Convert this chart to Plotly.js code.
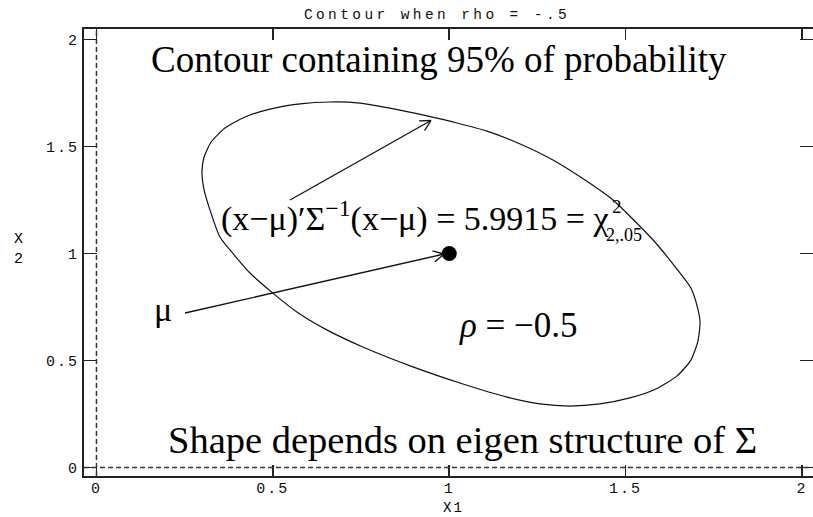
<!DOCTYPE html>
<html>
<head>
<meta charset="utf-8">
<script src="https://cdn.plot.ly/plotly-3.0.1.min.js"></script>
<style>
  html, body { margin: 0; padding: 0; background: #fff; }
  #chart { width: 813px; height: 517px; }
  .xtick text, .ytick text { letter-spacing: 2px; }
  .gtitle { letter-spacing: 3.4px; }
  .annotation[data-index="0"] text, .annotation[data-index="1"] text { letter-spacing: 2px; }
</style>
</head>
<body>
<div id="chart"></div>
<script>
// Axis ticks
const xTickVals = [0, 0.5, 1, 1.5, 2];
const xTickText = ['0', '0.5', '1', '1.5', '2'];
const yTickVals = [0, 0.5, 1, 1.5, 2];
const yTickText = ['0', '0.5', '1', '1.5', '2'];

// 95% probability contour, traced around the ellipse
const contourX = [0.747, 0.662, 0.577, 0.492, 0.421, 0.364, 0.325, 0.305, 0.299, 0.305,
                  0.319, 0.350, 0.393, 0.435, 0.500, 0.568, 0.653, 0.755, 0.897, 1.039,
                  1.164, 1.257, 1.342, 1.427, 1.512, 1.586, 1.646, 1.685, 1.705, 1.711,
                  1.702, 1.685, 1.654, 1.578, 1.464, 1.385, 1.294, 1.201, 1.107, 1.022,
                  0.937, 0.846, 0.747];
const contourY = [1.703, 1.708, 1.699, 1.675, 1.638, 1.586, 1.521, 1.451, 1.381, 1.297,
                  1.217, 1.077, 0.988, 0.909, 0.815, 0.727, 0.643, 0.563, 0.470, 0.390,
                  0.329, 0.297, 0.287, 0.297, 0.325, 0.367, 0.428, 0.502, 0.591, 0.680,
                  0.759, 0.839, 0.909, 1.063, 1.250, 1.343, 1.437, 1.512, 1.572, 1.610,
                  1.643, 1.675, 1.703];

// Mean vector mu
const meanX = [1];
const meanY = [1];

// Layout geometry
const W = 813, H = 517;
const M = { l: 84, r: 0, t: 29, b: 41 };
const XR = [-0.0354, 2.0312];
const YR = [-0.0397, 2.0491];
const plotW = W - M.l - M.r, plotH = H - M.t - M.b;
const pxX = plotW / (XR[1] - XR[0]);
const pxY = plotH / (YR[1] - YR[0]);
const px2x = p => XR[0] + (p - M.l) / pxX;
const py2y = p => YR[1] - (p - M.t) / pxY;

// Arrow with an open chevron head, built from line shapes
function arrow(x0, y0, x1, y1) {
  const st = { color: '#111', width: 1.3 };
  const out = [{ type: 'line', xref: 'x', yref: 'y', x0, y0, x1, y1, line: st }];
  let dx = (x1 - x0) * pxX, dy = -(y1 - y0) * pxY;
  const n = Math.hypot(dx, dy); dx /= n; dy /= n;
  const L = 12, th = 28 * Math.PI / 180;
  [th, -th].forEach(a => {
    const vx = -(dx * Math.cos(a) - dy * Math.sin(a)) * L;
    const vy = -(dx * Math.sin(a) + dy * Math.cos(a)) * L;
    out.push({ type: 'line', xref: 'x', yref: 'y', x0: x1, y0: y1,
               x1: x1 + vx / pxX, y1: y1 - vy / pxY, line: st });
  });
  return out;
}

const serif = 'Liberation Serif, Times New Roman, serif';
const mono = 'Liberation Mono, Courier New, monospace';

const traces = [
  { x: contourX, y: contourY, type: 'scatter', mode: 'lines',
    line: { color: '#111', width: 1.2, shape: 'spline', smoothing: 0.6 },
    hoverinfo: 'skip', showlegend: false },
  { x: meanX, y: meanY, type: 'scatter', mode: 'markers',
    marker: { color: '#000', size: 15 }, showlegend: false }
];

const shapes = [
  // dashed reference lines at x = 0 and y = 0
  { type: 'line', xref: 'x', yref: 'paper', x0: 0, x1: 0, y0: 0, y1: 1,
    line: { color: '#333', width: 1.5, dash: '5px,3px' } },
  { type: 'line', xref: 'paper', yref: 'y', x0: 0, x1: 1, y0: 0, y1: 0,
    line: { color: '#333', width: 1.5, dash: '5px,3px' } },
  ...arrow(px2x(290), py2y(200), px2x(431), py2y(120.5)),
  ...arrow(px2x(185), py2y(313), px2x(444), py2y(254))
];

// Text placed in paper coordinates from pixel positions
function label(text, px, py, size, family, anchor) {
  return { text, xref: 'paper', yref: 'paper',
           x: (px - M.l) / plotW, y: (H - M.b - py) / plotH,
           xanchor: anchor || 'left', yanchor: 'middle', showarrow: false,
           borderpad: 0, font: { family, size, color: '#000' } };
}

const annotations = [
  label('X1', 453, 508, 14, mono, 'center'),
  label('X<br>2', 19, 249, 15, mono, 'center'),
  label('Contour containing 95% of probability', 438.5, 59, 37, serif, 'center'),
  label('Shape depends on eigen structure of Σ', 462, 440, 38.5, serif, 'center'),
  label('(x−μ)′Σ<sup>−1</sup>(x−μ) = 5.9915 = χ', 220, 216, 34, serif),
  label('2', 611, 206, 19, serif),
  label('2,.05', 605, 235, 18, serif),
  label('<i>ρ</i> = −0.5', 458, 325, 35, serif),
  label('μ', 153, 309, 34, serif)
];

const layout = {
  width: W, height: H,
  margin: M,
  paper_bgcolor: '#fff', plot_bgcolor: '#fff',
  showlegend: false,
  title: { text: 'Contour when rho = -.5', xref: 'container', yref: 'container',
           x: 437 / W, y: 1 - 14 / H, xanchor: 'center', yanchor: 'middle',
           font: { family: mono, size: 14.5, color: '#111' } },
  xaxis: { range: XR, tickvals: xTickVals, ticktext: xTickText,
           ticks: 'inside', ticklen: 11, tickwidth: 1.5, tickcolor: '#222',
           showline: true, linewidth: 2, linecolor: '#222', mirror: 'ticks',
           showgrid: false, zeroline: false, ticklabelstandoff: -3,
           tickfont: { family: mono, size: 15, color: '#111' } },
  yaxis: { range: YR, tickvals: yTickVals, ticktext: yTickText,
           ticks: 'inside', ticklen: 13, tickwidth: 1.5, tickcolor: '#222',
           showline: true, linewidth: 2, linecolor: '#222', mirror: 'ticks',
           showgrid: false, zeroline: false,
           tickfont: { family: mono, size: 15, color: '#111' } },
  shapes, annotations
};

Plotly.newPlot('chart', traces, layout, { displayModeBar: false, staticPlot: true });
</script>
</body>
</html>
